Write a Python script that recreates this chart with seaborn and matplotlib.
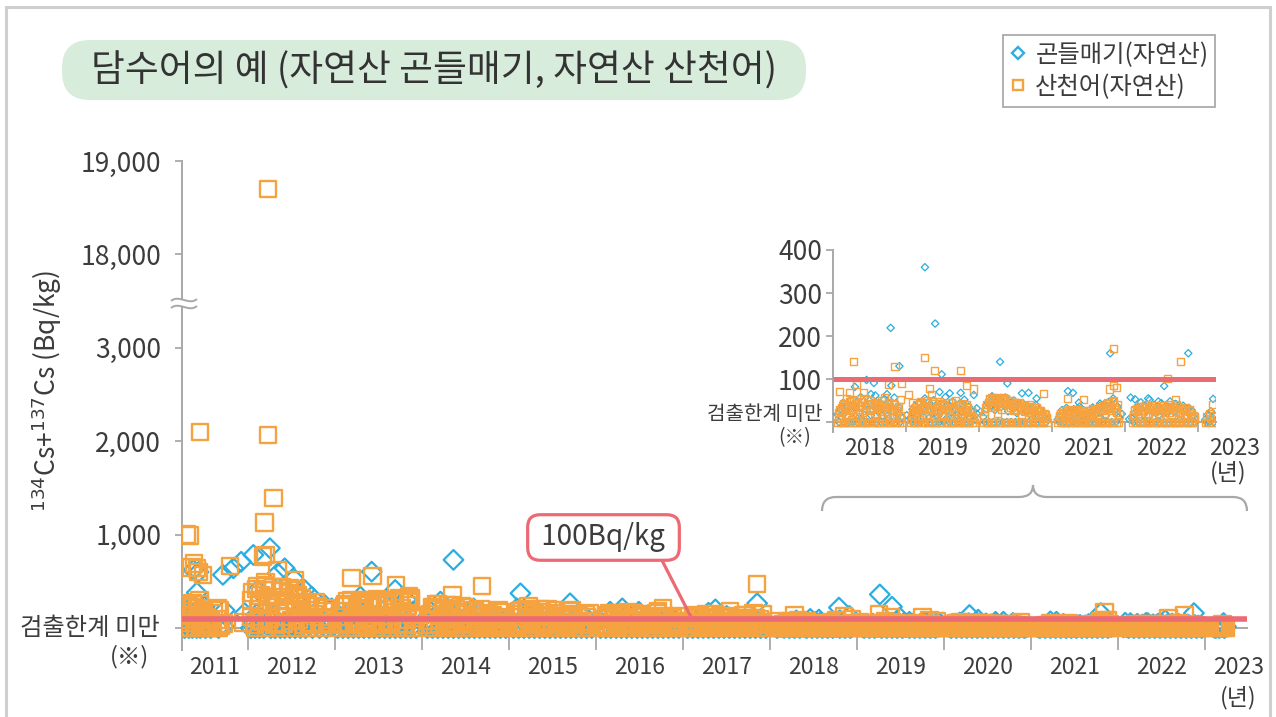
import numpy as np
import matplotlib
matplotlib.use('Agg')
import matplotlib.pyplot as plt
import seaborn as sns
from matplotlib.lines import Line2D
from matplotlib.patches import FancyBboxPatch, Rectangle, PathPatch
from matplotlib.path import Path

sns.set_theme(style='white')
plt.rcParams['font.family'] = ['Noto Sans CJK KR', 'DejaVu Sans']
plt.rcParams['mathtext.fontset'] = 'dejavusans'
plt.rcParams['axes.unicode_minus'] = False

BLUE   = '#2aaee2'
ORANGE = '#f4a340'
RED    = '#ec6a73'
GRAY   = '#a8a8a8'
TXT    = '#3c3c3c'

# ---------------------------------------------------------------------------
# data : sampling dates (decimal year) and Cs values (Bq/kg, 0 = below limit)
# iwana = 곤들매기(자연산), yamame = 산천어(자연산)
# ---------------------------------------------------------------------------
t_2011 = [2011.27, 2011.29, 2011.30, 2011.32, 2011.33, 2011.35, 2011.36, 2011.38, 2011.40, 2011.41,
          2011.43, 2011.45, 2011.47, 2011.49, 2011.51, 2011.54, 2011.57, 2011.61, 2011.66, 2011.72]
iwana_2011  = [0, 110, 40, 0, 180, 70, 0, 150, 30, 0, 90, 0, 60, 140, 0, 30, 0, 95, 0, 20]
yamame_2011 = [0, 180, 90, 240, 0, 130, 270, 60, 0, 210, 150, 0, 110, 190, 40, 0, 85, 160, 0, 50]

t_2012 = [2012.03, 2012.05, 2012.08, 2012.10, 2012.13, 2012.15, 2012.18, 2012.21, 2012.23, 2012.26,
          2012.29, 2012.31, 2012.34, 2012.37, 2012.40, 2012.42, 2012.45, 2012.48, 2012.51, 2012.54,
          2012.57, 2012.60, 2012.63, 2012.66, 2012.70, 2012.74, 2012.78, 2012.82, 2012.86, 2012.90, 2012.94]
iwana_2012  = [0, 40, 0, 150, 0, 90, 0, 200, 30, 0, 120, 0, 60, 0, 170, 0, 80, 0, 40, 0,
               130, 0, 60, 0, 90, 0, 30, 0, 70, 0, 20]
yamame_2012 = [120, 380, 0, 450, 260, 90, 410, 0, 330, 180, 440, 60, 300, 0, 390, 220, 120, 430, 0, 280,
               350, 150, 0, 240, 190, 0, 280, 120, 0, 210, 60]

t_2013 = [2013.03, 2013.06, 2013.09, 2013.12, 2013.15, 2013.18, 2013.21, 2013.24, 2013.27, 2013.30,
          2013.33, 2013.36, 2013.39, 2013.42, 2013.45, 2013.48, 2013.51, 2013.54, 2013.57, 2013.60,
          2013.63, 2013.66, 2013.69, 2013.72, 2013.75, 2013.78, 2013.81, 2013.84, 2013.87, 2013.90, 2013.93]
iwana_2013  = [0, 60, 0, 120, 0, 30, 0, 200, 0, 80, 0, 150, 0, 40, 0, 110, 0, 60, 0, 230,
               0, 90, 0, 50, 0, 140, 0, 70, 0, 180, 0]
yamame_2013 = [0, 180, 60, 250, 0, 300, 120, 0, 210, 280, 0, 90, 240, 150, 0, 310, 60, 0, 200, 260,
               0, 130, 280, 0, 180, 90, 0, 240, 320, 0, 110]

t_2014 = [2014.06, 2014.09, 2014.12, 2014.15, 2014.18, 2014.21, 2014.24, 2014.27, 2014.30, 2014.33,
          2014.36, 2014.39, 2014.42, 2014.45, 2014.48, 2014.51, 2014.54, 2014.57, 2014.60, 2014.63,
          2014.66, 2014.69, 2014.72, 2014.75, 2014.78, 2014.81, 2014.84, 2014.87, 2014.90, 2014.93, 2014.96]
iwana_2014  = [0, 50, 0, 130, 0, 20, 0, 100, 0, 60, 0, 140, 0, 30, 0, 90, 0, 40, 0, 120,
               0, 50, 0, 80, 0, 20, 0, 110, 0, 40, 0]
yamame_2014 = [0, 150, 220, 0, 260, 90, 180, 0, 240, 120, 0, 200, 60, 230, 0, 150, 100, 0, 190, 50,
               0, 160, 120, 0, 90, 140, 0, 60, 170, 0, 40]

t_2015 = [2015.05, 2015.08, 2015.11, 2015.14, 2015.17, 2015.20, 2015.23, 2015.26, 2015.29, 2015.32,
          2015.35, 2015.38, 2015.41, 2015.44, 2015.47, 2015.50, 2015.53, 2015.56, 2015.59, 2015.62,
          2015.65, 2015.68, 2015.71, 2015.74, 2015.77, 2015.80, 2015.83, 2015.86, 2015.89, 2015.92, 2015.95]
iwana_2015  = [0, 40, 0, 90, 0, 150, 0, 30, 0, 110, 0, 60, 0, 20, 0, 130, 0, 70, 0, 40,
               0, 100, 0, 50, 0, 160, 0, 30, 0, 80, 0]
yamame_2015 = [0, 120, 180, 0, 60, 200, 100, 0, 150, 40, 0, 170, 80, 0, 130, 60, 190, 0, 110, 30,
               0, 150, 90, 0, 60, 140, 0, 40, 120, 0, 70]

t_2016 = [2016.05, 2016.08, 2016.11, 2016.14, 2016.17, 2016.20, 2016.23, 2016.26, 2016.29, 2016.32,
          2016.35, 2016.38, 2016.41, 2016.44, 2016.47, 2016.50, 2016.53, 2016.56, 2016.59, 2016.62,
          2016.65, 2016.68, 2016.71, 2016.74, 2016.77, 2016.80, 2016.83, 2016.86, 2016.89, 2016.92, 2016.95]
iwana_2016  = [0, 30, 0, 80, 0, 140, 0, 50, 0, 100, 0, 20, 0, 70, 0, 120, 0, 40, 0, 90,
               0, 30, 0, 60, 0, 110, 0, 40, 0, 80, 0]
yamame_2016 = [0, 90, 140, 0, 50, 120, 0, 160, 70, 0, 110, 30, 0, 150, 80, 0, 40, 130, 0, 100,
               60, 0, 180, 90, 0, 50, 120, 0, 70, 20, 0]

t_2017 = [2017.05, 2017.08, 2017.11, 2017.14, 2017.17, 2017.20, 2017.23, 2017.26, 2017.29, 2017.32,
          2017.35, 2017.38, 2017.41, 2017.44, 2017.47, 2017.50, 2017.53, 2017.56, 2017.59, 2017.62,
          2017.65, 2017.68, 2017.71, 2017.74, 2017.77, 2017.80, 2017.83, 2017.86, 2017.89, 2017.92, 2017.95]
iwana_2017  = [0, 20, 0, 70, 0, 110, 0, 40, 0, 90, 0, 30, 0, 60, 0, 130, 0, 50, 0, 80,
               0, 20, 0, 70, 0, 100, 0, 40, 0, 60, 0]
yamame_2017 = [0, 70, 120, 0, 40, 100, 0, 150, 60, 0, 90, 20, 0, 130, 70, 0, 30, 110, 0, 80,
               50, 0, 140, 90, 0, 40, 100, 0, 60, 150, 0]

t_2018 = [2018.06, 2018.08, 2018.10, 2018.12, 2018.14, 2018.16, 2018.18, 2018.20, 2018.22, 2018.24,
          2018.26, 2018.28, 2018.30, 2018.32, 2018.34, 2018.36, 2018.38, 2018.40, 2018.42, 2018.44,
          2018.46, 2018.48, 2018.50, 2018.52, 2018.54, 2018.56, 2018.58, 2018.60, 2018.62, 2018.64,
          2018.66, 2018.68, 2018.70, 2018.72, 2018.74, 2018.76, 2018.78, 2018.80, 2018.82, 2018.84,
          2018.86, 2018.88, 2018.90, 2018.92, 2018.94]
iwana_2018  = [18, 0, 30, 12, 45, 0, 25, 38, 0, 52, 10, 0, 33, 47, 0, 21, 58, 6, 0, 40,
               28, 0, 50, 16, 0, 36, 62, 0, 24, 44, 0, 15, 53, 0, 31, 8, 42, 0, 26, 57,
               0, 19, 35, 0, 12]
yamame_2018 = [0, 22, 8, 35, 0, 41, 15, 0, 48, 27, 5, 52, 33, 0, 45, 19, 38, 0, 55, 26,
               0, 42, 12, 49, 31, 0, 44, 20, 0, 39, 51, 8, 0, 35, 24, 46, 0, 30, 14, 40,
               0, 27, 36, 9, 0]

t_2019 = [2019.06, 2019.08, 2019.10, 2019.12, 2019.14, 2019.16, 2019.18, 2019.20, 2019.22, 2019.24,
          2019.26, 2019.28, 2019.30, 2019.32, 2019.34, 2019.36, 2019.38, 2019.40, 2019.42, 2019.44,
          2019.46, 2019.48, 2019.50, 2019.52, 2019.54, 2019.56, 2019.58, 2019.60, 2019.62, 2019.64,
          2019.66, 2019.68, 2019.70, 2019.72, 2019.74, 2019.76, 2019.78, 2019.80, 2019.82, 2019.84,
          2019.86, 2019.88, 2019.90, 2019.92, 2019.94]
iwana_2019  = [10, 0, 24, 37, 0, 18, 46, 0, 32, 12, 55, 0, 27, 40, 0, 20, 51, 0, 35, 14,
               0, 43, 29, 0, 58, 9, 38, 0, 22, 48, 0, 31, 16, 0, 44, 26, 0, 52, 19, 0,
               36, 11, 0, 25, 15]
yamame_2019 = [0, 15, 28, 0, 40, 22, 6, 47, 31, 0, 38, 18, 50, 0, 29, 43, 11, 0, 36, 25,
               48, 0, 17, 41, 30, 0, 45, 13, 34, 0, 27, 49, 8, 0, 39, 20, 44, 0, 24, 33,
               0, 16, 28, 5, 0]

t_2020 = [2020.06, 2020.08, 2020.10, 2020.12, 2020.14, 2020.16, 2020.18, 2020.20, 2020.22, 2020.24,
          2020.26, 2020.28, 2020.30, 2020.32, 2020.34, 2020.36, 2020.38, 2020.40, 2020.42, 2020.44,
          2020.46, 2020.48, 2020.50, 2020.52, 2020.54, 2020.56, 2020.58, 2020.60, 2020.62, 2020.64,
          2020.66, 2020.68, 2020.70, 2020.72, 2020.74, 2020.76, 2020.78, 2020.80, 2020.82, 2020.84,
          2020.86, 2020.88, 2020.90, 2020.92, 2020.94]
iwana_2020  = [12, 0, 30, 45, 0, 38, 60, 0, 28, 48, 0, 53, 35, 0, 42, 57, 0, 25, 46, 0,
               33, 50, 0, 21, 40, 0, 31, 44, 0, 26, 37, 0, 18, 32, 0, 24, 40, 0, 14, 29,
               0, 20, 10, 0, 6]
yamame_2020 = [0, 25, 40, 0, 52, 33, 58, 0, 47, 55, 20, 0, 50, 38, 56, 0, 44, 30, 51, 0,
               41, 26, 46, 0, 36, 43, 18, 0, 39, 28, 0, 34, 22, 37, 0, 30, 15, 27, 0, 24,
               12, 0, 20, 8, 0]

t_2021 = [2021.08, 2021.10, 2021.12, 2021.14, 2021.16, 2021.18, 2021.20, 2021.22, 2021.24, 2021.26,
          2021.28, 2021.30, 2021.32, 2021.34, 2021.36, 2021.38, 2021.40, 2021.42, 2021.44, 2021.46,
          2021.48, 2021.50, 2021.52, 2021.54, 2021.56, 2021.58, 2021.60, 2021.62, 2021.64, 2021.66,
          2021.68, 2021.70, 2021.72, 2021.74, 2021.76, 2021.78, 2021.80, 2021.82, 2021.84, 2021.86,
          2021.88, 2021.90, 2021.92]
iwana_2021  = [6, 0, 15, 28, 0, 20, 33, 0, 11, 25, 0, 30, 17, 0, 24, 36, 0, 13, 27, 0,
               21, 9, 0, 26, 34, 0, 18, 29, 0, 38, 22, 0, 42, 15, 0, 47, 30, 0, 55, 25,
               0, 36, 12]
yamame_2021 = [0, 12, 20, 0, 26, 8, 0, 18, 30, 0, 14, 24, 0, 22, 5, 28, 0, 16, 25, 0,
               10, 27, 0, 19, 31, 0, 23, 13, 0, 29, 35, 0, 21, 38, 0, 44, 27, 0, 50, 33,
               0, 41, 18]

t_2022 = [2022.10, 2022.12, 2022.14, 2022.16, 2022.18, 2022.20, 2022.22, 2022.24, 2022.26, 2022.28,
          2022.30, 2022.32, 2022.34, 2022.36, 2022.38, 2022.40, 2022.42, 2022.44, 2022.46, 2022.48,
          2022.50, 2022.52, 2022.54, 2022.56, 2022.58, 2022.60, 2022.62, 2022.64, 2022.66, 2022.68,
          2022.70, 2022.72, 2022.74, 2022.76, 2022.78, 2022.80, 2022.82, 2022.84, 2022.86, 2022.88,
          2022.90, 2022.92, 2022.94, 2022.96]
iwana_2022  = [8, 0, 22, 35, 0, 28, 46, 0, 18, 38, 0, 30, 52, 0, 24, 40, 0, 33, 15, 0,
               44, 26, 0, 36, 20, 0, 48, 31, 0, 25, 42, 0, 34, 19, 0, 38, 28, 0, 22, 33,
               0, 27, 14, 0]
yamame_2022 = [0, 18, 30, 0, 24, 36, 10, 0, 28, 40, 0, 20, 33, 0, 15, 38, 26, 0, 31, 12,
               0, 35, 22, 0, 29, 41, 0, 17, 34, 0, 25, 37, 0, 20, 32, 0, 27, 14, 0, 30,
               21, 0, 16, 8]

t_2023 = [2023.10, 2023.12, 2023.14, 2023.16, 2023.18, 2023.20, 2023.22, 2023.24]
iwana_2023  = [5, 0, 18, 0, 25, 10, 0, 14]
yamame_2023 = [0, 12, 0, 20, 8, 0, 15, 0]

# further 산천어 samples taken between the dates above
tb_2011 = [2011.28, 2011.31, 2011.34, 2011.37, 2011.39, 2011.42, 2011.44, 2011.46, 2011.48, 2011.50,
           2011.53, 2011.56, 2011.59, 2011.64, 2011.69]
yamame_b_2011 = [60, 0, 150, 220, 0, 100, 260, 30, 170, 0, 120, 60, 0, 90, 20]

tb_2012 = [2012.040, 2012.065, 2012.090, 2012.115, 2012.140, 2012.165, 2012.195, 2012.220, 2012.245,
           2012.275, 2012.300, 2012.325, 2012.355, 2012.385, 2012.410, 2012.435, 2012.465, 2012.495,
           2012.525, 2012.555, 2012.585, 2012.615, 2012.645, 2012.680, 2012.720, 2012.760, 2012.800,
           2012.840, 2012.880, 2012.920, 2012.960]
yamame_b_2012 = [300, 40, 420, 200, 350, 70, 460, 250, 100, 400, 30, 330, 180, 440, 50, 290, 370, 80,
                 410, 200, 90, 320, 40, 260, 60, 150, 230, 30, 180, 90, 50]

tb_2013 = [2013.045, 2013.075, 2013.105, 2013.135, 2013.165, 2013.195, 2013.225, 2013.255, 2013.285,
           2013.315, 2013.345, 2013.375, 2013.405, 2013.435, 2013.465, 2013.495, 2013.525, 2013.555,
           2013.585, 2013.615, 2013.645, 2013.675, 2013.705, 2013.735, 2013.765, 2013.795, 2013.825,
           2013.855, 2013.885, 2013.915]
yamame_b_2013 = [120, 30, 230, 290, 60, 160, 40, 260, 90, 190, 300, 20, 70, 220, 50, 270, 130, 30, 240, 80,
                 60, 300, 170, 40, 210, 50, 90, 280, 140, 30]

tb_2014 = [2014.075, 2014.105, 2014.135, 2014.165, 2014.195, 2014.225, 2014.255, 2014.285, 2014.315,
           2014.345, 2014.375, 2014.405, 2014.435, 2014.465, 2014.495, 2014.525, 2014.555, 2014.585,
           2014.615, 2014.645, 2014.675, 2014.705, 2014.735, 2014.765, 2014.795, 2014.825, 2014.855,
           2014.885, 2014.915, 2014.945]
yamame_b_2014 = [80, 30, 200, 250, 50, 130, 210, 20, 60, 240, 40, 170, 90, 30, 220, 30, 70, 180, 130, 20,
                 200, 70, 40, 150, 100, 60, 120, 20, 50, 90]

tb_2015 = [2015.065, 2015.095, 2015.125, 2015.155, 2015.185, 2015.215, 2015.245, 2015.275, 2015.305,
           2015.335, 2015.365, 2015.395, 2015.425, 2015.455, 2015.485, 2015.515, 2015.545, 2015.575,
           2015.605, 2015.635, 2015.665, 2015.695, 2015.725, 2015.755, 2015.785, 2015.815, 2015.845,
           2015.875, 2015.905, 2015.935]
yamame_b_2015 = [60, 20, 150, 190, 40, 90, 30, 170, 60, 120, 200, 20, 50, 140, 30, 160, 80, 40, 130, 60,
                 20, 180, 100, 50, 120, 40, 70, 150, 70, 30]

tb_2016 = [2016.065, 2016.095, 2016.125, 2016.155, 2016.185, 2016.215, 2016.245, 2016.275, 2016.305,
           2016.335, 2016.365, 2016.395, 2016.425, 2016.455, 2016.485, 2016.515, 2016.545, 2016.575,
           2016.605, 2016.635, 2016.665, 2016.695, 2016.725, 2016.755, 2016.785, 2016.815, 2016.845,
           2016.875, 2016.905, 2016.935]
yamame_b_2016 = [40, 20, 120, 160, 50, 80, 20, 140, 30, 100, 170, 60, 60, 120, 20, 150, 70, 40, 110, 40,
                 30, 160, 90, 50, 130, 30, 20, 100, 60, 40]

tb_2017 = [2017.065, 2017.095, 2017.125, 2017.155, 2017.185, 2017.215, 2017.245, 2017.275, 2017.305,
           2017.335, 2017.365, 2017.395, 2017.425, 2017.455, 2017.485, 2017.515, 2017.545, 2017.575,
           2017.605, 2017.635, 2017.665, 2017.695, 2017.725, 2017.755, 2017.785, 2017.815, 2017.845,
           2017.875, 2017.905, 2017.935]
yamame_b_2017 = [30, 50, 100, 140, 20, 70, 20, 120, 40, 90, 150, 30, 50, 110, 60, 130, 60, 20, 100, 30,
                 40, 140, 80, 20, 110, 40, 60, 90, 50, 30]

tb_2018 = [2018.07, 2018.09, 2018.11, 2018.13, 2018.15, 2018.17, 2018.19, 2018.21, 2018.23, 2018.25,
           2018.27, 2018.29, 2018.31, 2018.33, 2018.35, 2018.37, 2018.39, 2018.41, 2018.43, 2018.45,
           2018.47, 2018.49, 2018.51, 2018.53, 2018.55, 2018.57, 2018.59, 2018.61, 2018.63, 2018.65,
           2018.67, 2018.69, 2018.71, 2018.73, 2018.75, 2018.77, 2018.79, 2018.81, 2018.83, 2018.85,
           2018.87, 2018.89, 2018.91, 2018.93]
yamame_b_2018 = [10, 30, 0, 25, 44, 0, 36, 18, 0, 50, 29, 0, 42, 13, 38, 0, 47, 22, 0, 34,
                 53, 0, 28, 40, 0, 17, 45, 0, 33, 24, 0, 41, 30, 0, 19, 37, 0, 26, 43, 0,
                 21, 32, 0, 15]

tb_2019 = [2019.07, 2019.09, 2019.11, 2019.13, 2019.15, 2019.17, 2019.19, 2019.21, 2019.23, 2019.25,
           2019.27, 2019.29, 2019.31, 2019.33, 2019.35, 2019.37, 2019.39, 2019.41, 2019.43, 2019.45,
           2019.47, 2019.49, 2019.51, 2019.53, 2019.55, 2019.57, 2019.59, 2019.61, 2019.63, 2019.65,
           2019.67, 2019.69, 2019.71, 2019.73, 2019.75, 2019.77, 2019.79, 2019.81, 2019.83, 2019.85,
           2019.87, 2019.89, 2019.91, 2019.93]
yamame_b_2019 = [5, 20, 0, 33, 26, 0, 42, 14, 0, 37, 45, 0, 24, 31, 0, 48, 19, 0, 35, 27,
                 0, 44, 12, 38, 0, 30, 21, 0, 46, 34, 0, 25, 40, 0, 18, 36, 0, 29, 41, 0,
                 22, 14, 0, 10]

tb_2020 = [2020.07, 2020.09, 2020.11, 2020.13, 2020.15, 2020.17, 2020.19, 2020.21, 2020.23, 2020.25,
           2020.27, 2020.29, 2020.31, 2020.33, 2020.35, 2020.37, 2020.39, 2020.41, 2020.43, 2020.45,
           2020.47, 2020.49, 2020.51, 2020.53, 2020.55, 2020.57, 2020.59, 2020.61, 2020.63, 2020.65,
           2020.67, 2020.69, 2020.71, 2020.73, 2020.75, 2020.77, 2020.79, 2020.81, 2020.83, 2020.85,
           2020.87, 2020.89, 2020.91, 2020.93]
yamame_b_2020 = [15, 33, 0, 46, 55, 0, 38, 50, 0, 57, 44, 0, 30, 53, 0, 48, 40, 0, 35, 49,
                 0, 42, 29, 0, 45, 33, 0, 38, 25, 0, 31, 40, 0, 27, 20, 0, 33, 18, 0, 26,
                 15, 0, 18, 10]

tb_2021 = [2021.09, 2021.11, 2021.13, 2021.15, 2021.17, 2021.19, 2021.21, 2021.23, 2021.25, 2021.27,
           2021.29, 2021.31, 2021.33, 2021.35, 2021.37, 2021.39, 2021.41, 2021.43, 2021.45, 2021.47,
           2021.49, 2021.51, 2021.53, 2021.55, 2021.57, 2021.59, 2021.61, 2021.63, 2021.65, 2021.67,
           2021.69, 2021.71, 2021.73, 2021.75, 2021.77, 2021.79, 2021.81, 2021.83, 2021.85, 2021.87,
           2021.89, 2021.91]
yamame_b_2021 = [6, 16, 0, 23, 11, 0, 27, 19, 0, 25, 8, 0, 21, 29, 0, 15, 26, 0, 20, 12,
                 0, 28, 17, 0, 24, 30, 0, 18, 33, 0, 26, 39, 0, 31, 45, 0, 36, 47, 0, 30,
                 22, 0]

tb_2022 = [2022.11, 2022.13, 2022.15, 2022.17, 2022.19, 2022.21, 2022.23, 2022.25, 2022.27, 2022.29,
           2022.31, 2022.33, 2022.35, 2022.37, 2022.39, 2022.41, 2022.43, 2022.45, 2022.47, 2022.49,
           2022.51, 2022.53, 2022.55, 2022.57, 2022.59, 2022.61, 2022.63, 2022.65, 2022.67, 2022.69,
           2022.71, 2022.73, 2022.75, 2022.77, 2022.79, 2022.81, 2022.83, 2022.85, 2022.87, 2022.89,
           2022.91, 2022.93, 2022.95]
yamame_b_2022 = [10, 26, 0, 32, 20, 0, 37, 28, 0, 34, 16, 0, 30, 39, 0, 24, 35, 0, 19, 31,
                 0, 38, 27, 0, 33, 22, 0, 36, 29, 0, 40, 23, 0, 31, 26, 0, 35, 18, 0, 28,
                 20, 0, 12]

# single high readings
iwana_peak_t = [2011.29, 2011.35, 2011.37, 2011.41, 2011.43, 2011.50, 2011.71, 2011.73, 2011.83, 2011.92,
                2011.96, 2012.06, 2012.11, 2012.25, 2012.34, 2012.42, 2012.52, 2012.65, 2012.73, 2012.88,
                2012.96, 2013.29, 2013.42, 2013.69, 2013.82, 2014.21, 2014.36, 2014.59, 2015.09, 2015.13,
                2015.70, 2016.16, 2016.30, 2016.49, 2017.29, 2017.37, 2017.85,
                2018.12, 2018.30, 2018.46, 2018.52, 2018.56, 2018.74, 2018.79, 2018.80, 2018.91, 2019.01,
                2019.09, 2019.26, 2019.40, 2019.46, 2019.49, 2019.60, 2019.75, 2019.93, 2019.97, 2019.97,
                2020.29, 2020.39, 2020.59, 2020.68, 2020.79, 2021.22, 2021.29, 2021.37, 2021.66, 2021.80,
                2021.96, 2022.06, 2022.08, 2022.14, 2022.32, 2022.46, 2022.54, 2022.69, 2022.87, 2023.21]
iwana_peak_v = [120, 230, 620, 380, 600, 230, 570, 190, 640, 710,
                160, 783, 408, 855, 587, 640, 533, 408, 336, 247,
                211, 336, 604, 408, 300, 283, 730, 211, 211, 372,
                265, 175, 211, 175, 164, 200, 265,
                36, 82, 98, 65, 91, 65, 219, 85, 130, 16,
                30, 360, 229, 70, 111, 67, 68, 63, 32, 20,
                140, 90, 67, 68, 55, 72, 68, 45, 43, 160,
                19, 7, 57, 53, 55, 48, 84, 42, 160, 54]

yamame_peak_t = [2011.29, 2011.33, 2011.35, 2011.38, 2011.41, 2011.43, 2011.45, 2011.48, 2011.44, 2011.65,
                 2011.67, 2011.79, 2011.94, 2012.17, 2012.19, 2012.20, 2012.20, 2012.23, 2012.23, 2012.29,
                 2012.34, 2012.54, 2012.55, 2013.19, 2013.32, 2013.43, 2013.47, 2013.61, 2013.70, 2013.74,
                 2013.85, 2013.87, 2014.35, 2014.69, 2014.88, 2015.22, 2015.44, 2015.72, 2015.93, 2016.43,
                 2016.77, 2016.97, 2017.54, 2017.81, 2017.85,
                 2018.09, 2018.19, 2018.22, 2018.28, 2018.32, 2018.42, 2018.70, 2018.76, 2018.85, 2018.93,
                 2018.94, 2019.03, 2019.09, 2019.25, 2019.32, 2019.35, 2019.39, 2019.75, 2019.83, 2019.92,
                 2020.29, 2020.37, 2020.88, 2021.22, 2021.43, 2021.79, 2021.84, 2021.84, 2021.88, 2022.58,
                 2022.70, 2022.76, 2023.20]
yamame_peak_v = [1000, 990, 650, 690, 640, 600, 2100, 570, 300, 210,
                 190, 665, 60, 765, 1130, 783, 486, 2070, 18700, 1390,
                 615, 515, 415, 533, 300, 558, 290, 280, 461, 320,
                 336, 300, 354, 451, 186, 229, 200, 186, 158, 157,
                 211, 129, 175, 157, 472,
                 72, 55, 68, 140, 88, 68, 58, 88, 130, 53,
                 90, 64, 46, 150, 78, 65, 121, 121, 86, 77,
                 53, 55, 67, 54, 53, 77, 86, 171, 80, 101,
                 53, 141, 40]

years = [2011, 2012, 2013, 2014, 2015, 2016, 2017, 2018, 2019, 2020, 2021, 2022, 2023]
inset_years = [2018, 2019, 2020, 2021, 2022, 2023]
limit = 100

iwana_t = np.array(t_2011 + t_2012 + t_2013 + t_2014 + t_2015 + t_2016 + t_2017 + t_2018 + t_2019
                   + t_2020 + t_2021 + t_2022 + t_2023 + iwana_peak_t)
iwana_v = np.array(iwana_2011 + iwana_2012 + iwana_2013 + iwana_2014 + iwana_2015 + iwana_2016 + iwana_2017
                   + iwana_2018 + iwana_2019 + iwana_2020 + iwana_2021 + iwana_2022 + iwana_2023 + iwana_peak_v)
yamame_t = np.array(t_2011 + t_2012 + t_2013 + t_2014 + t_2015 + t_2016 + t_2017 + t_2018 + t_2019
                    + t_2020 + t_2021 + t_2022 + t_2023
                    + tb_2011 + tb_2012 + tb_2013 + tb_2014 + tb_2015 + tb_2016 + tb_2017
                    + tb_2018 + tb_2019 + tb_2020 + tb_2021 + tb_2022 + yamame_peak_t)
yamame_v = np.array(yamame_2011 + yamame_2012 + yamame_2013 + yamame_2014 + yamame_2015 + yamame_2016
                    + yamame_2017 + yamame_2018 + yamame_2019 + yamame_2020 + yamame_2021 + yamame_2022
                    + yamame_2023
                    + yamame_b_2011 + yamame_b_2012 + yamame_b_2013 + yamame_b_2014 + yamame_b_2015
                    + yamame_b_2016 + yamame_b_2017 + yamame_b_2018 + yamame_b_2019 + yamame_b_2020
                    + yamame_b_2021 + yamame_b_2022 + yamame_peak_v)


# broken y axis: 3,500 .. 17,500 squeezed out
def fwd(v):
    v = np.asarray(v, dtype=float)
    return np.where(v <= 3500, v, np.where(v >= 17500, v - 13999, 3500 + (v - 3500) / 14000))


def inv(p):
    p = np.asarray(p, dtype=float)
    return np.where(p <= 3500, p, np.where(p >= 3501, p + 13999, 3500 + (p - 3500) * 14000))


W, H = 1276, 717
fig = plt.figure(figsize=(W / 100, H / 100), dpi=100)
fig.patch.set_facecolor('white')
inch = fig.dpi_scale_trans


def px(x, y):
    return (x / 100, (H - y) / 100)


# ---- main chart ----
ax = fig.add_axes([182 / W, 1 - 650 / H, (1247 - 182) / W, (650 - 161) / H])
sns.scatterplot(x=iwana_t, y=iwana_v, marker='D', s=100, facecolor='none', edgecolor=BLUE,
                linewidth=1.6, ax=ax, zorder=3)
sns.scatterplot(x=yamame_t, y=yamame_v, marker='s', s=140, facecolor='none', edgecolor=ORANGE,
                linewidth=1.7, ax=ax, zorder=4)
ax.set_yscale('function', functions=(fwd, inv))
ax.set_ylim(-235, 19000)
ax.set_xlim(2011.24, 2023.48)
ax.axhline(limit, color=RED, lw=4, zorder=6, solid_capstyle='butt')

for s in ['top', 'right']:
    ax.spines[s].set_visible(False)
for s in ['left', 'bottom']:
    ax.spines[s].set_color(GRAY)
    ax.spines[s].set_linewidth(1.4)
ax.spines['bottom'].set_position(('data', 0))
ax.spines['bottom'].set_zorder(1)

ax.set_yticks([0, 1000, 2000, 3000, 18000, 19000])
ax.set_yticklabels(['', '1,000', '2,000', '3,000', '18,000', '19,000'])
ax.set_xticks(years[1:])
ax.set_xticklabels([])
ax.tick_params(axis='y', left=True, length=5, width=1.3, color=GRAY, labelsize=19,
               labelcolor=TXT, pad=10)
ax.tick_params(axis='x', bottom=True, direction='out', length=15.8, width=1.3, color=GRAY)
ax.set_xlabel('')
ax.set_ylabel('')

xt = ax.get_xaxis_transform()
for yr in years:
    xpos = 2011.62 if yr == 2011 else yr + 0.5
    if yr == 2023:
        xpos = 2023.38
    ax.text(xpos, -0.035, str(yr), transform=xt, ha='center', va='center', fontsize=16.5, color=TXT)
ax.text(2023.38, -0.098, '(년)', transform=xt, ha='center', va='center', fontsize=16.5, color=TXT)

fig.text(*px(160, 628), '검출한계 미만', transform=inch, ha='right', va='center', fontsize=17.5, color=TXT)
fig.text(*px(129, 657), '(※)', transform=inch, ha='center', va='center', fontsize=17, color=TXT)
fig.text(*px(47, 391), r'$^{134}$Cs+$^{137}$Cs (Bq/kg)', transform=inch, rotation=90,
         ha='center', va='center', fontsize=19, color=TXT)

ax.annotate(' 100Bq/kg ', xy=(2017.10, limit), xycoords='data',
            xytext=px(603.5, 537.5), textcoords=inch, ha='center', va='center',
            fontsize=20, color=TXT, zorder=7,
            bbox=dict(boxstyle='round,pad=0.28,rounding_size=0.45', fc='white', ec=RED, lw=2.3),
            arrowprops=dict(arrowstyle='-', color=RED, lw=2.3, shrinkA=0, shrinkB=0, relpos=(0.9, 0)))

# axis break mark
fig.patches.append(Rectangle(px(177, 307), 0.1, 0.07, transform=inch, fc='white', ec='none', zorder=3))
for y0 in (300, 307):
    v = [px(171, y0 + 1), px(179, y0 - 6), px(189, y0 + 6), px(197, y0 - 1)]
    fig.patches.append(PathPatch(Path(v, [Path.MOVETO, Path.CURVE4, Path.CURVE4, Path.CURVE4]),
                                 transform=inch, fc='none', ec=GRAY, lw=1.4, zorder=4))

# ---- inset 2018-2023 ----
axi = fig.add_axes([833 / W, 1 - 432 / H, 383 / W, 182 / H])
axi.set_facecolor('none')
mi = iwana_t >= 2018
my = yamame_t >= 2018
sns.scatterplot(x=iwana_t[mi], y=iwana_v[mi], marker='D', s=14, facecolor='none', edgecolor=BLUE,
                linewidth=0.9, ax=axi, zorder=3)
sns.scatterplot(x=yamame_t[my], y=yamame_v[my], marker='s', s=26, facecolor='none', edgecolor=ORANGE,
                linewidth=1.0, ax=axi, zorder=4)
axi.set_xlim(2018.0, 2023.25)
axi.set_ylim(-23, 400)
axi.axhline(limit, color=RED, lw=3.6, zorder=6, solid_capstyle='butt')
for s in ['top', 'right']:
    axi.spines[s].set_visible(False)
for s in ['left', 'bottom']:
    axi.spines[s].set_color(GRAY)
    axi.spines[s].set_linewidth(1.4)
axi.spines['bottom'].set_position(('data', 0))
axi.set_yticks([0, 100, 200, 300, 400])
axi.set_yticklabels(['', '100', '200', '300', '400'])
axi.set_xticks(inset_years[1:])
axi.set_xticklabels([])
axi.tick_params(axis='y', left=True, length=5, width=1.3, color=GRAY, labelsize=19,
                labelcolor=TXT, pad=3)
axi.tick_params(axis='x', bottom=True, direction='out', length=7.2, width=1.3, color=GRAY)
axi.set_xlabel('')
axi.set_ylabel('')
xti = axi.get_xaxis_transform()
for yr in inset_years:
    axi.text(yr + 0.5, -0.088, str(yr), transform=xti, ha='center', va='center', fontsize=16.5, color=TXT)
axi.text(2023.42, -0.225, '(년)', transform=xti, ha='center', va='center', fontsize=16.5, color=TXT)
fig.text(*px(822, 414), '검출한계 미만', transform=inch, ha='right', va='center', fontsize=14.5, color=TXT)
fig.text(*px(795, 438), '(※)', transform=inch, ha='center', va='center', fontsize=14, color=TXT)

# brace under the inset
bv = [px(822, 511), px(822, 497), px(836, 497), px(1019, 497), px(1033, 497), px(1033, 485),
      px(1033, 497), px(1047, 497), px(1233, 497), px(1247, 497), px(1247, 511)]
bc = [Path.MOVETO, Path.CURVE3, Path.CURVE3, Path.LINETO, Path.CURVE3, Path.CURVE3,
      Path.CURVE3, Path.CURVE3, Path.LINETO, Path.CURVE3, Path.CURVE3]
fig.patches.append(PathPatch(Path(bv, bc), transform=inch, fc='none', ec=GRAY, lw=1.6))

# ---- title, legend, frame ----
fig.patches.append(FancyBboxPatch(px(62, 100), 7.44, 0.60, transform=inch,
                                  boxstyle='round,pad=0,rounding_size=0.28', fc='#d8ecdc', ec='none'))
fig.text(*px(434, 71), '담수어의 예 (자연산 곤들매기, 자연산 산천어)', transform=inch,
         ha='center', va='center', fontsize=26.5, color='#333333')

handles = [Line2D([], [], ls='', marker='D', ms=6.5, mfc='none', mec=BLUE, mew=1.7),
           Line2D([], [], ls='', marker='s', ms=7.6, mfc='none', mec=ORANGE, mew=1.7)]
leg = fig.legend(handles, ['곤들매기(자연산)', '산천어(자연산)'], loc='upper left',
                 bbox_to_anchor=(1003 / W, 1 - 35 / H), borderaxespad=0, fontsize=17.5,
                 frameon=True, fancybox=False, framealpha=1, edgecolor='#aaaaaa',
                 handlelength=0.7, handletextpad=0.35, borderpad=0.28, labelspacing=0.25)
leg.get_frame().set_linewidth(1.3)
for t in leg.get_texts():
    t.set_color(TXT)

fig.patches.append(Rectangle((0.06, -0.5), 12.64, 7.60, transform=inch, fill=False,
                             ec='#cfcfcf', lw=2.2))

fig.savefig('out.png', dpi=100)
